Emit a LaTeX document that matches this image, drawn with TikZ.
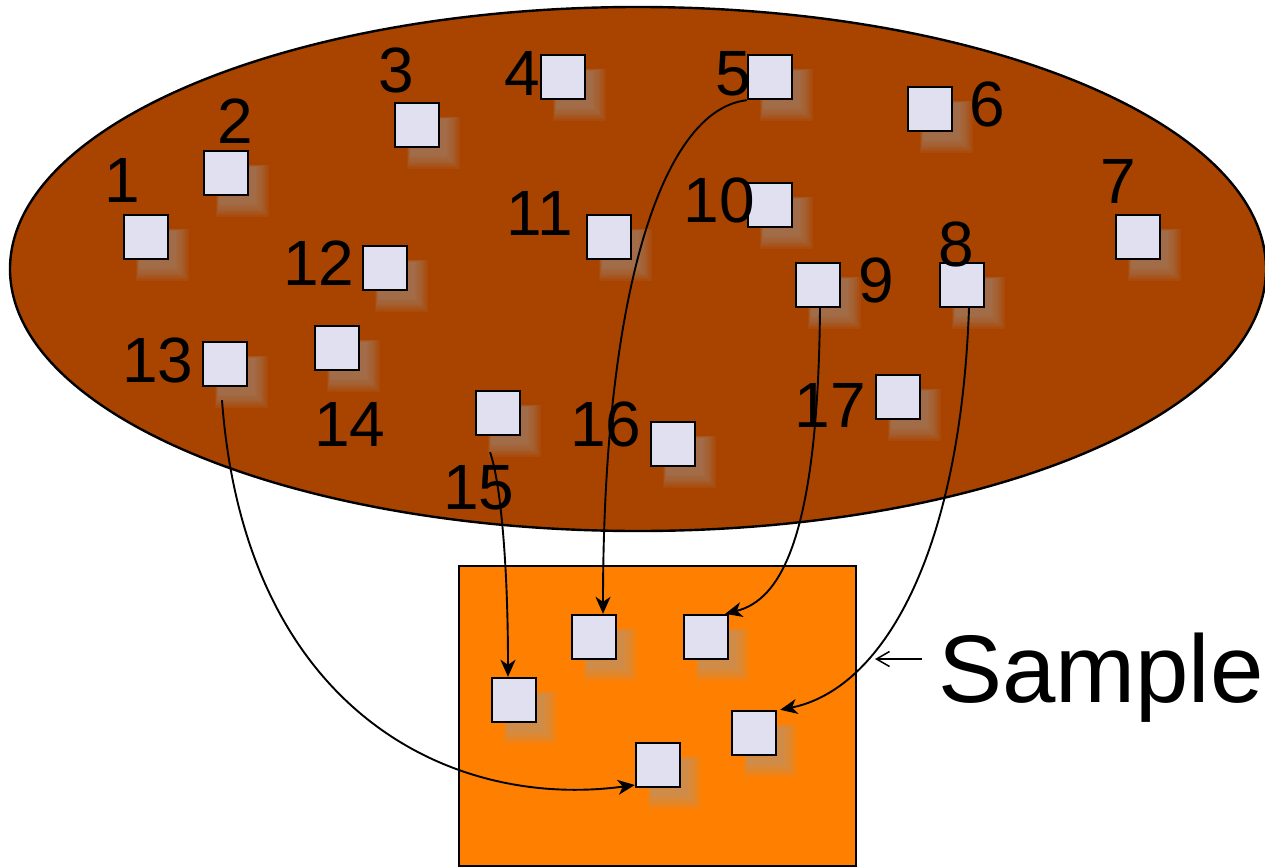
\documentclass[tikz,border=0pt]{standalone}
\usepackage{fontspec}
\setmainfont{Liberation Sans}
\usetikzlibrary{arrows.meta,shadows,calc}
\definecolor{ell}{RGB}{169,68,0}
\definecolor{samp}{RGB}{255,127,0}
\definecolor{boxfill}{RGB}{224,224,240}
\definecolor{shade}{RGB}{160,160,160}
\begin{document}
\begin{tikzpicture}[x=1pt,y=-1pt,
  shlayer/.style={general shadow={fill=shade, opacity=0.085, shadow xshift=14pt, shadow yshift=-15pt, shadow scale=#1}},
  sq/.style={draw=black, line width=2.4pt, fill=boxfill, minimum size=44pt, inner sep=0pt,
    shlayer=1.2, shlayer=1.14, shlayer=1.08, shlayer=1.02, shlayer=0.96, shlayer=0.9, shlayer=0.84},
  num/.style={font=\fontsize{64}{64}\selectfont, inner sep=0pt},
  link/.style={line width=1.9pt, -{Stealth[length=17pt,width=15pt,inset=5pt]}},
  pointer/.style={line width=1.5pt, -{Straight Barb[length=13pt,width=15pt]}},
]
\useasboundingbox (0,0) rectangle (1265,867);
\draw[fill=ell, line width=2.4pt] (638,269) ellipse [x radius=628, y radius=262];
\draw[fill=samp, line width=2.4pt] (459,566) rectangle (856,866);

% population boxes
\node[sq] (b1) at (146,237) {};
\node[sq] (b2) at (226,173) {};
\node[sq] (b3) at (417,125) {};
\node[sq] (b4) at (563,77) {};
\node[sq] (b5) at (770,77) {};
\node[sq] (b6) at (930,109) {};
\node[sq] (b7) at (1138,237) {};
\node[sq] (b8) at (962,285) {};
\node[sq] (b9) at (818,285) {};
\node[sq] (b10) at (770,205) {};
\node[sq] (b11) at (609,237) {};
\node[sq] (b12) at (385,268) {};
\node[sq] (b13) at (225,364) {};
\node[sq] (b14) at (337,348) {};
\node[sq] (b15) at (498,413) {};
\node[sq] (b16) at (673,444) {};
\node[sq] (b17) at (898,397) {};

% labels
\node[num] (l1) at (122,180) {1};
\node[num] (l2) at (235,121) {2};
\node[num] (l3) at (396,70) {3};
\node[num] (l4) at (522,73) {4};
\node[num] (l5) at (733,74) {5};
\node[num] (l6) at (987,104) {6};
\node[num] (l7) at (1118,181) {7};
\node[num] (l8) at (956,244) {8};
\node[num] (l9) at (876,280) {9};
\node[num] (l10) at (719,200) {10};
\node[num] (l11) at (540,213) {11};
\node[num] (l12) at (319,263) {12};
\node[num] (l13) at (158,360) {13};
\node[num] (l14) at (350,424) {14};
\node[num] (l15) at (479,488) {15};
\node[num] (l16) at (606,424) {16};
\node[num] (l17) at (830,405) {17};

% sample boxes
\node[sq] (s5) at (594,637) {};
\node[sq] (s9) at (706,637) {};
\node[sq] (s15) at (514,700) {};
\node[sq] (s8) at (754,733) {};
\node[sq] (s13) at (658,765) {};

\node[font=\fontsize{96}{96}\selectfont, anchor=base west, inner sep=0pt] (sample) at (938,702) {Sample};
\coordinate (sa1) at (922,659);
\coordinate (sa2) at (875,659);
\draw[pointer] (sa1) -- (sa2);

% connectors
\draw[link] (b5.south west) .. controls (660,110) and (603,300) .. ($(s5.north)+(9,0)$);
\draw[link] ($(b9.south)+(2,0)$) .. controls (818,540) and (780,600) .. ($(s9.north east)+(-4,0)$);
\draw[link] ($(b15.south)+(-8,16)$) .. controls (500,480) and (508,560) .. ($(s15.north)+(-6,0)$);
\draw[link] ($(b8.south)+(7,0)$) .. controls (960,560) and (880,690) .. ($(s8.north east)+(3,0)$);
\draw[link] ($(b13.south)+(-3,13)$) .. controls (245,710) and (450,810) .. ($(s13.west)+(0,20)$);
\end{tikzpicture}
\end{document}
